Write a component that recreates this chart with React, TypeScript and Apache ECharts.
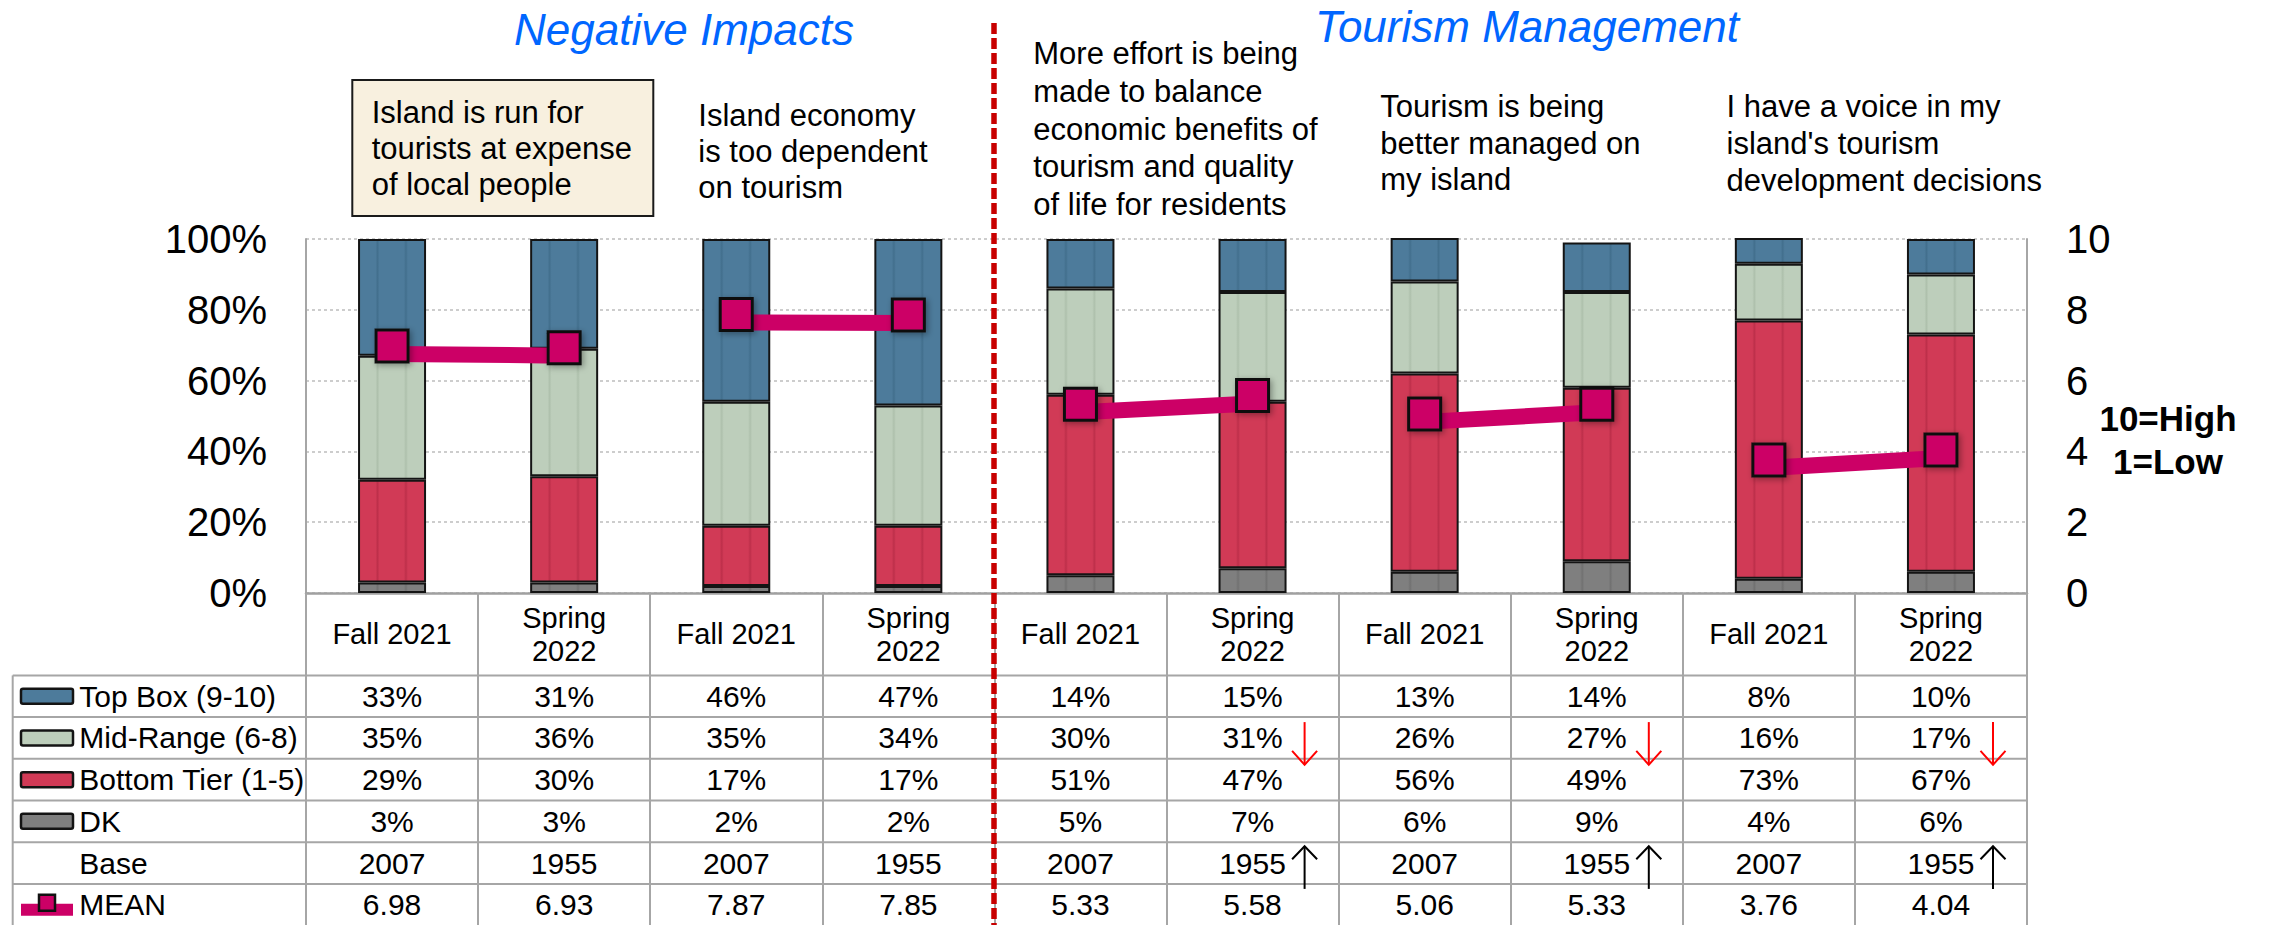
import React, { useEffect, useRef } from "react";
import * as echarts from "echarts";

// ---------- data ----------
const periods = [
  "Fall 2021", "Spring\n2022",
  "Fall 2021", "Spring\n2022",
  "Fall 2021", "Spring\n2022",
  "Fall 2021", "Spring\n2022",
  "Fall 2021", "Spring\n2022",
];
const topBox = [33, 31, 46, 47, 14, 15, 13, 14, 8, 10];
const midRange = [35, 36, 35, 34, 30, 31, 26, 27, 16, 17];
const bottomTier = [29, 30, 17, 17, 51, 47, 56, 49, 73, 67];
const dontKnow = [3, 3, 2, 2, 5, 7, 6, 9, 4, 6];
const baseSizes = [2007, 1955, 2007, 1955, 2007, 1955, 2007, 1955, 2007, 1955];
const meanScores = [6.98, 6.93, 7.87, 7.85, 5.33, 5.58, 5.06, 5.33, 3.76, 4.04];
const questions = [
  "Island is run for\ntourists at expense\nof local people",
  "Island economy\nis too dependent\non tourism",
  "More effort is being\nmade to balance\neconomic benefits of\ntourism and quality\nof life for residents",
  "Tourism is being\nbetter managed on\nmy island",
  "I have a voice in my\nisland's tourism\ndevelopment decisions",
];
const sectionTitles = ["Negative Impacts", "Tourism Management"];
const rowLabels = ["Top Box (9-10)", "Mid-Range (6-8)", "Bottom Tier (1-5)", "DK", "Base", "MEAN"];
const scaleNote = ["10=High", "1=Low"];
const significantCols = [5, 7, 9];

// ---------- styles / layout ----------
const FONT = "'Liberation Sans', Arial, Helvetica, sans-serif";
const COLORS = {
  top: "#4D7B9B", topD: "#426F8D",
  mid: "#BDCEBB", midD: "#AEC0AC",
  bot: "#D13A56", botD: "#BD2F4A",
  dk: "#7F7F7F", dkD: "#717171",
  mean: "#CC0066",
  grid: "#A6A6A6",
};
const GRID = { left: 306, right: 243, top: 239, bottom: 332 };
const HEADER_H = 82.4;
const ROW_H = 41.7;
const TABLE_LEFT = 12.7;
const TABLE_FONT = 30;
const DIVIDER_X = 994;
const LINE_SHIFT = 0.226; // mean line drawn slightly below marker centres, as in the original
const questionLayout = [
  { x: 371.7, y: 148.3, lh: 36.3 },
  { x: 698.3, y: 151.7, lh: 36.3 },
  { x: 1033.3, y: 129.2, lh: 37.7 },
  { x: 1380.3, y: 143, lh: 36.6 },
  { x: 1726.6, y: 143.5, lh: 37 },
];
const questionBox = { x: 352.3, y: 80, w: 301, h: 136 };
const titleLayout = [
  { x: 684, y: 29 },
  { x: 1527, y: 26 },
];

function stripe(c: string, d: string) {
  return {
    type: "linear", x: 0, y: 0, x2: 1, y2: 0,
    colorStops: [
      { offset: 0, color: c },
      { offset: 0.25, color: c },
      { offset: 0.28, color: d },
      { offset: 0.31, color: c },
      { offset: 0.68, color: c },
      { offset: 0.71, color: d },
      { offset: 0.74, color: c },
      { offset: 1, color: c },
    ],
  };
}

function barSeries(name: string, data: number[], c: string, d: string) {
  return {
    name,
    type: "bar",
    stack: "total",
    yAxisIndex: 0,
    barWidth: 68,
    data,
    itemStyle: { color: stripe(c, d), borderColor: "#141414", borderWidth: 2 },
    emphasis: { disabled: true },
    z: 2,
  };
}

export default function App() {
  const ref = useRef<HTMLDivElement>(null);

  useEffect(() => {
    if (!ref.current) return;
    const chart = echarts.init(ref.current, null, { renderer: "svg" });

    const lineSeries = questions.map((_, q) => ({
      type: "line",
      yAxisIndex: 2,
      symbol: "none",
      data: meanScores.map((v, i) => (i === 2 * q || i === 2 * q + 1 ? v : "-")),
      lineStyle: { width: 16, color: COLORS.mean, cap: "butt" },
      emphasis: { disabled: true },
      z: 3,
    }));

    const option: any = {
      animation: false,
      grid: { ...GRID, containLabel: false },
      xAxis: {
        type: "category",
        data: periods,
        axisLine: { lineStyle: { color: "#A0A0A0", width: 2.5 } },
        axisTick: { show: true, interval: 0, length: 332, lineStyle: { color: COLORS.grid, width: 2 } },
        axisLabel: {
          interval: 0, fontSize: 29, lineHeight: 33, color: "#000", margin: 41,
          verticalAlign: "middle", fontFamily: FONT,
        },
      },
      yAxis: [
        {
          type: "value", min: 0, max: 100, interval: 20, position: "left",
          axisLine: { show: true, lineStyle: { color: COLORS.grid, width: 2 } },
          axisTick: { show: false },
          axisLabel: { formatter: "{value}%", fontSize: 40, color: "#000", margin: 39, fontFamily: FONT },
          splitLine: { show: true, lineStyle: { color: "#BDBDBD", type: [3, 3], width: 1.5 } },
        },
        {
          type: "value", min: 0, max: 10, interval: 2, position: "right",
          axisLine: { show: true, lineStyle: { color: COLORS.grid, width: 2 } },
          axisTick: { show: false },
          axisLabel: { fontSize: 40, color: "#000", margin: 39, fontFamily: FONT },
          splitLine: { show: false },
        },
        { type: "value", min: LINE_SHIFT, max: 10 + LINE_SHIFT, show: false, position: "right" },
      ],
      series: [
        barSeries("DK", dontKnow, COLORS.dk, COLORS.dkD),
        barSeries("Bottom Tier (1-5)", bottomTier, COLORS.bot, COLORS.botD),
        barSeries("Mid-Range (6-8)", midRange, COLORS.mid, COLORS.midD),
        barSeries("Top Box (9-10)", topBox, COLORS.top, COLORS.topD),
        ...lineSeries,
        {
          name: "MEAN",
          type: "scatter",
          yAxisIndex: 1,
          data: meanScores,
          symbol: "rect",
          symbolSize: 32,
          itemStyle: {
            color: COLORS.mean, borderColor: "#111", borderWidth: 3, opacity: 1,
            shadowBlur: 6, shadowColor: "rgba(0,0,0,0.35)", shadowOffsetX: 2, shadowOffsetY: 2,
          },
          emphasis: { disabled: true },
          z: 4,
        },
      ],
    };
    chart.setOption(option);

    // ----- graphic overlay built from the chart's own scales -----
    const cx = (i: number) => chart.convertToPixel({ xAxisIndex: 0 }, i) as number;
    const band = cx(1) - cx(0);
    const gridRight = cx(periods.length - 1) + band / 2;
    const y0 = chart.convertToPixel({ yAxisIndex: 0 }, 0) as number;
    const rowTop = (k: number) => y0 + HEADER_H + k * ROW_H;
    const rowMid = (k: number) => rowTop(k) + ROW_H / 2;

    const g: any[] = [];

    // section titles
    sectionTitles.forEach((t, i) => {
      g.push({
        type: "text", x: titleLayout[i].x, y: titleLayout[i].y, z: 20,
        style: {
          text: t, fill: "#0066FF", fontSize: 44, fontStyle: "italic", fontFamily: FONT,
          align: "center", verticalAlign: "middle",
        },
      });
    });

    // first question highlighted in a box
    g.push({
      type: "rect", z: 19,
      shape: { x: questionBox.x, y: questionBox.y, width: questionBox.w, height: questionBox.h },
      style: { fill: "#F8F0DF", stroke: "#1A1A1A", lineWidth: 2 },
    });
    questions.forEach((q, i) => {
      const L = questionLayout[i];
      g.push({
        type: "text", x: L.x, y: L.y, z: 20,
        style: {
          text: q, fill: "#000", fontSize: 31, fontFamily: FONT, lineHeight: L.lh,
          align: "left", verticalAlign: "middle",
        },
      });
    });

    // scale note
    g.push({
      type: "text", x: 2168, y: 418, z: 20,
      style: { text: scaleNote[0], fill: "#000", fontSize: 35, fontWeight: "bold", fontFamily: FONT, align: "center", verticalAlign: "middle" },
    });
    g.push({
      type: "text", x: 2168, y: 461, z: 20,
      style: { text: scaleNote[1], fill: "#000", fontSize: 35, fontWeight: "bold", fontFamily: FONT, align: "center", verticalAlign: "middle" },
    });

    // table lines
    for (let k = 0; k < rowLabels.length; k++) {
      g.push({
        type: "line", z: 5,
        shape: { x1: TABLE_LEFT, y1: rowTop(k), x2: gridRight, y2: rowTop(k) },
        style: { stroke: COLORS.grid, lineWidth: 2 },
      });
    }
    g.push({
      type: "line", z: 5,
      shape: { x1: TABLE_LEFT, y1: rowTop(0), x2: TABLE_LEFT, y2: 925 },
      style: { stroke: COLORS.grid, lineWidth: 2 },
    });

    // row labels with swatches
    const swatchColors = [COLORS.top, COLORS.mid, COLORS.bot, COLORS.dk];
    rowLabels.forEach((lab, r) => {
      const m = rowMid(r);
      g.push({
        type: "text", x: 79.3, y: m, z: 20,
        style: { text: lab, fill: "#000", fontSize: TABLE_FONT, fontFamily: FONT, align: "left", verticalAlign: "middle" },
      });
      if (r < 4) {
        g.push({
          type: "rect", z: 20,
          shape: { x: 21, y: m - 7.5, width: 52, height: 15, r: 2 },
          style: { fill: swatchColors[r], stroke: "#141414", lineWidth: 2.5 },
        });
      }
      if (r === 5) {
        g.push({
          type: "rect", z: 20,
          shape: { x: 21, y: m - 1, width: 52, height: 12 },
          style: { fill: COLORS.mean },
        });
        g.push({
          type: "rect", z: 21,
          shape: { x: 39, y: m - 10, width: 16, height: 16 },
          style: { fill: COLORS.mean, stroke: "#111", lineWidth: 2.5 },
        });
      }
    });

    // cell values
    const rows: string[][] = [
      topBox.map((v) => v + "%"),
      midRange.map((v) => v + "%"),
      bottomTier.map((v) => v + "%"),
      dontKnow.map((v) => v + "%"),
      baseSizes.map((v) => String(v)),
      meanScores.map((v) => v.toFixed(2)),
    ];
    rows.forEach((vals, r) => {
      vals.forEach((txt, i) => {
        g.push({
          type: "text", x: cx(i), y: rowMid(r), z: 20,
          style: { text: txt, fill: "#000", fontSize: TABLE_FONT, fontFamily: FONT, align: "center", verticalAlign: "middle" },
        });
      });
    });

    // significance arrows
    significantCols.forEach((i) => {
      const ax = cx(i) + band / 2 - 34;
      // red down arrow (Mid-Range row)
      const rt = rowTop(1) + 5;
      const rb = rowTop(2) + 6;
      g.push({ type: "line", z: 22, shape: { x1: ax, y1: rt, x2: ax, y2: rb }, style: { stroke: "#FF0000", lineWidth: 2 } });
      g.push({
        type: "polyline", z: 22,
        shape: { points: [[ax - 12.5, rb - 14], [ax, rb], [ax + 12.5, rb - 14]] },
        style: { stroke: "#FF0000", lineWidth: 2, fill: "none" },
      });
      // black up arrow (Base row)
      const bt = rowTop(4) + 4;
      const bb = rowTop(5) + 5;
      g.push({ type: "line", z: 22, shape: { x1: ax, y1: bt, x2: ax, y2: bb }, style: { stroke: "#000", lineWidth: 2 } });
      g.push({
        type: "polyline", z: 22,
        shape: { points: [[ax - 12.5, bt + 13], [ax, bt], [ax + 12.5, bt + 13]] },
        style: { stroke: "#000", lineWidth: 2, fill: "none" },
      });
    });

    // red dashed section divider
    g.push({
      type: "line", z: 30,
      shape: { x1: DIVIDER_X, y1: 23, x2: DIVIDER_X, y2: 925 },
      style: { stroke: "#C80000", lineWidth: 5.5, lineDash: [11, 4] },
    });

    chart.setOption({ graphic: g });

    return () => chart.dispose();
  }, []);

  return (
    <div
      ref={ref}
      style={{ position: "fixed", left: 0, top: 0, width: 2270, height: 925, background: "#fff" }}
    />
  );
}
